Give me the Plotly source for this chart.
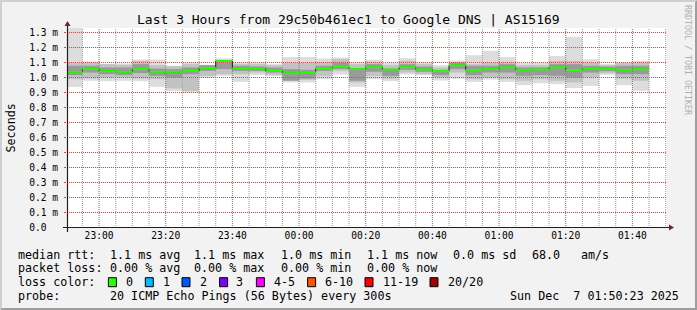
import pandas as pd
import plotly.graph_objects as go

# ---------------- data (ms) ----------------
step_end = pd.date_range("2025-12-06 22:55:00", periods=35, freq="5min")  # RRD step end times
median = [1.038, 1.056, 1.042, 1.038, 1.056, 1.038, 1.038, 1.044, 1.064, 1.110,
          1.062, 1.062, 1.044, 1.029, 1.036, 1.060, 1.071, 1.056, 1.069, 1.053,
          1.069, 1.054, 1.043, 1.082, 1.050, 1.056, 1.068, 1.051, 1.054, 1.068,
          1.050, 1.062, 1.056, 1.051, 1.055]
smoke_max = [1.333, 1.107, 1.091, 1.093, 1.120, 1.120, 1.078, 1.100, 1.084, 1.127,
             1.100, 1.100, 1.089, 1.136, 1.136, 1.127, 1.133, 1.100, 1.118, 1.096,
             1.129, 1.100, 1.082, 1.113, 1.149, 1.178, 1.136, 1.096, 1.100, 1.144,
             1.271, 1.122, 1.089, 1.100, 1.111]
smoke_min = [0.937, 0.978, 0.976, 0.978, 0.976, 0.938, 0.910, 0.900, 0.998, 1.011,
             0.971, 1.016, 1.011, 0.967, 0.967, 0.989, 1.020, 0.938, 0.989, 0.976,
             1.020, 1.016, 0.980, 0.992, 0.971, 0.986, 0.971, 0.949, 0.962, 0.956,
             0.930, 0.944, 1.018, 0.949, 0.911]
mid_hi = [1.100, 1.100, 1.089, 1.084, 1.111, 1.082, 1.076, 1.089, 1.084, 1.118,
          1.089, 1.089, 1.082, 1.100, 1.100, 1.104, 1.122, 1.089, 1.104, 1.082,
          1.111, 1.089, 1.067, 1.100, 1.089, 1.100, 1.104, 1.082, 1.082, 1.111,
          1.111, 1.100, 1.082, 1.096, 1.100]
mid_lo = [0.989, 0.993, 1.000, 1.000, 0.993, 0.989, 0.927, 0.910, 1.011, 1.022,
          1.022, 1.033, 1.016, 0.989, 0.984, 1.011, 1.044, 0.967, 1.011, 0.993,
          1.033, 1.022, 1.000, 1.033, 0.989, 1.000, 0.989, 0.978, 0.989, 0.978,
          0.967, 1.000, 1.029, 0.993, 0.978]
dark_hi = [1.078, 1.078, 1.067, 1.067, 1.089, 1.060, 1.056, 1.067, 1.082, 1.100,
           1.078, 1.073, 1.067, 1.056, 1.051, 1.078, 1.100, 1.060, 1.089, 1.060,
           1.089, 1.073, 1.051, 1.100, 1.078, 1.078, 1.089, 1.067, 1.067, 1.089,
           1.089, 1.078, 1.073, 1.078, 1.078]
dark_lo = [1.016, 1.033, 1.022, 1.016, 1.029, 1.011, 1.000, 1.022, 1.044, 1.056,
           1.044, 1.044, 1.033, 0.978, 0.993, 1.044, 1.056, 0.978, 1.038, 1.011,
           1.051, 1.038, 1.016, 1.056, 1.016, 1.033, 1.033, 1.011, 1.016, 1.011,
           1.000, 1.033, 1.042, 1.022, 1.022]

y_ticks = [0.0, 0.1, 0.2, 0.3, 0.4, 0.5, 0.6, 0.7, 0.8, 0.9, 1.0, 1.1, 1.2, 1.3]
y_tick_text = ["0.0\u00a0\u00a0"] + [f"{v:.1f} m" for v in y_ticks[1:]]
x_major = list(pd.date_range("2025-12-06 23:00", "2025-12-07 01:40", freq="20min"))
x_minor = [t for t in pd.date_range("2025-12-06 22:55", "2025-12-07 01:50", freq="5min") if t not in set(x_major)]
x_start, x_end = pd.Timestamp("2025-12-06 22:50:23"), pd.Timestamp("2025-12-07 01:50:23")

title = "Last 3 Hours from 29c50b461ec1 to Google DNS | AS15169"
loss_labels = ["0", "1", "2", "3", "4-5", "6-10", "11-19", "20/20"]
loss_colors = ["#26ff00", "#00b8ff", "#0059ff", "#7e00ff", "#ff00ff", "#ff5500", "#ff0000", "#a10000"]
stats_rtt = ["1.1 ms avg", "1.1 ms max", "1.0 ms min", "1.1 ms now", "0.0 ms sd", "68.0", "am/s"]
stats_loss = ["0.00 % avg", "0.00 % max", "0.00 % min", "0.00 % now"]
probe_text = "20 ICMP Echo Pings (56 Bytes) every 300s"
date_text = "Sun Dec\u00a0\u00a07 01:50:23 2025"

# ---------------- geometry helpers ----------------
W, H = 697, 310
X0, Y0, XS, YS = 67, 228, 600, 200
PXMS = 150.0            # pixels per ms on the value axis
def PX(x): return (x - X0) / XS
def PY(y): return (Y0 - y) / YS

MONO = "DejaVu Sans Mono"
step = pd.Timedelta("5min")
centers = step_end - step / 2
width_ms = 300000
y_lo = -0.5 / PXMS      # half-pixel shift so grid rows land on pixel centres
y_hi = y_lo + YS / PXMS

fig = go.Figure()

def band(lo, hi, color):
    fig.add_trace(go.Bar(x=centers, y=[h - l for l, h in zip(lo, hi)], base=lo,
                         width=width_ms, marker=dict(color=color, line=dict(width=0)),
                         hoverinfo="skip", showlegend=False))

band(smoke_min, smoke_max, "#dddddd")
band(mid_lo, mid_hi, "#c2c2c2")
band(dark_lo, dark_hi, "#9a9a9a")

GRID = "#9a9a9a"
MGRID = "#f04040"

def vgrid(times, color):
    xs, ys = [], []
    for t in times:
        xs += [t, t, None]
        ys += [y_lo, y_hi, None]
    fig.add_trace(go.Scatter(x=xs, y=ys, mode="lines", line=dict(color=color, width=1, dash="1px,1px"),
                             hoverinfo="skip", showlegend=False))

def hgrid(vals, color):
    xs, ys = [], []
    for v in vals:
        xs += [x_start, x_end, None]
        ys += [v, v, None]
    fig.add_trace(go.Scatter(x=xs, y=ys, mode="lines", line=dict(color=color, width=1, dash="1px,1px"),
                             hoverinfo="skip", showlegend=False))

vgrid(x_minor, GRID)
vgrid(x_major, MGRID)
hgrid(y_ticks[1:], MGRID)

# black step line (median)
sx = list(step_end - step) + [step_end[-1]]
sy = list(median) + [median[-1]]
fig.add_trace(go.Scatter(x=sx, y=sy, mode="lines", line=dict(color="#202020", width=1, shape="hv"),
                         hoverinfo="skip", showlegend=False))
# green median segments
gx, gy = [], []
for e, m in zip(step_end, median):
    gx += [e - step, e, None]
    gy += [m, m, None]
fig.add_trace(go.Scatter(x=gx, y=gy, mode="lines", line=dict(color="#26ff00", width=2),
                         hoverinfo="skip", showlegend=False))

fig.update_layout(
    width=W, height=H, autosize=False,
    margin=dict(l=X0, r=W - X0 - XS, t=Y0 - YS, b=H - Y0, pad=0),
    paper_bgcolor="#f2f2f2", plot_bgcolor="#ffffff",
    barmode="overlay", showlegend=False,
    font=dict(family=MONO, color="#000000"),
    xaxis=dict(type="date", range=[x_start, x_end],
               tickmode="array", tickvals=x_major, tickformat="%H:%M",
               showgrid=False, ticks="", showline=False, zeroline=False,
               tickfont=dict(family=MONO, size=9.6, color="#000"), fixedrange=True),
    yaxis=dict(range=[y_lo, y_hi], tickmode="array", tickvals=y_ticks, ticktext=y_tick_text,
               showgrid=False, ticks="outside", ticklen=2, tickcolor=MGRID, ticklabelstandoff=4,
               showline=False, zeroline=False,
               tickfont=dict(family=MONO, size=9.6, color="#000"), fixedrange=True),
)

shapes = []
ann = []
# frame bevel
shapes.append(dict(type="path", xref="paper", yref="paper",
                   path=f"M {PX(0)},{PY(H)} L {PX(2)},{PY(H-2)} L {PX(2)},{PY(2)} L {PX(W-2)},{PY(2)} L {PX(W)},{PY(0)} L {PX(0)},{PY(0)} Z",
                   fillcolor="#cfcfcf", line=dict(width=0)))
shapes.append(dict(type="path", xref="paper", yref="paper",
                   path=f"M {PX(2)},{PY(H-2)} L {PX(W-2)},{PY(H-2)} L {PX(W-2)},{PY(2)} L {PX(W)},{PY(0)} L {PX(W)},{PY(H)} L {PX(0)},{PY(H)} Z",
                   fillcolor="#9e9e9e", line=dict(width=0)))
# axes
shapes.append(dict(type="line", xref="paper", yref="paper", x0=PX(X0 - 4), x1=PX(X0 + XS + 4),
                   y0=PY(Y0 - 0.5), y1=PY(Y0 - 0.5), line=dict(color="#1f1f1f", width=1.2)))
shapes.append(dict(type="line", xref="paper", yref="paper", x0=PX(X0 + 0.5), x1=PX(X0 + 0.5),
                   y0=PY(Y0 + 4), y1=PY(Y0 - YS - 4), line=dict(color="#1f1f1f", width=1.2)))
shapes.append(dict(type="path", xref="paper", yref="paper",
                   path=f"M {PX(X0+XS+2)},{PY(Y0-3.5)} L {PX(X0+XS+2)},{PY(Y0+2.5)} L {PX(X0+XS+7)},{PY(Y0-0.5)} Z",
                   fillcolor="#801f1f", line=dict(width=0)))
shapes.append(dict(type="path", xref="paper", yref="paper",
                   path=f"M {PX(X0-2.5)},{PY(Y0-YS-2)} L {PX(X0+3.5)},{PY(Y0-YS-2)} L {PX(X0+0.5)},{PY(Y0-YS-7)} Z",
                   fillcolor="#801f1f", line=dict(width=0)))

def text(x, y, s, size=11.7, anchor="left", color="#000000", angle=0, ya="middle"):
    ann.append(dict(x=PX(x), y=PY(y), xref="paper", yref="paper", text=s, showarrow=False,
                    xanchor=anchor, yanchor=ya, textangle=angle,
                    font=dict(family=MONO, size=size, color=color)))

text(348.5, 19, title, size=13, anchor="center")
text(10.5, 128, "Seconds", size=11.7, anchor="center", angle=-90)
text(688, 60, "RRDTOOL / TOBI OETIKER", size=8.3, anchor="center", angle=90, color="#b0b0b0")

rows = [254.5, 268.2, 282.2, 296]
text(16.4, rows[0], "median rtt:")
for s, x in zip(stats_rtt, [107.6, 192.4, 279, 365.3, 451, 529.8, 579]):
    text(x, rows[0], s)
text(16.4, rows[1], "packet loss:")
for s, x in zip(stats_loss, [107.6, 192.4, 279, 365.3]):
    text(x, rows[1], s)
text(16.4, rows[2], "loss color:")
for lab, col, bx, tx in zip(loss_labels, loss_colors,
                            [108.4, 145.3, 182, 219.6, 256.4, 307.6, 365, 430],
                            [123.6, 161, 198, 234, 272, 323, 381, 446]):
    shapes.append(dict(type="rect", xref="paper", yref="paper", x0=PX(bx), x1=PX(bx + 8),
                       y0=PY(rows[2] - 4.5), y1=PY(rows[2] + 4.5), fillcolor=col,
                       line=dict(color="#000000", width=1)))
    text(tx, rows[2], lab)
text(16.4, rows[3], "probe:")
text(107.6, rows[3], probe_text)
text(680.5, rows[3], date_text, anchor="right")

fig.update_layout(shapes=shapes, annotations=ann)
fig.write_html("out.html", config={"displayModeBar": False, "staticPlot": True})
